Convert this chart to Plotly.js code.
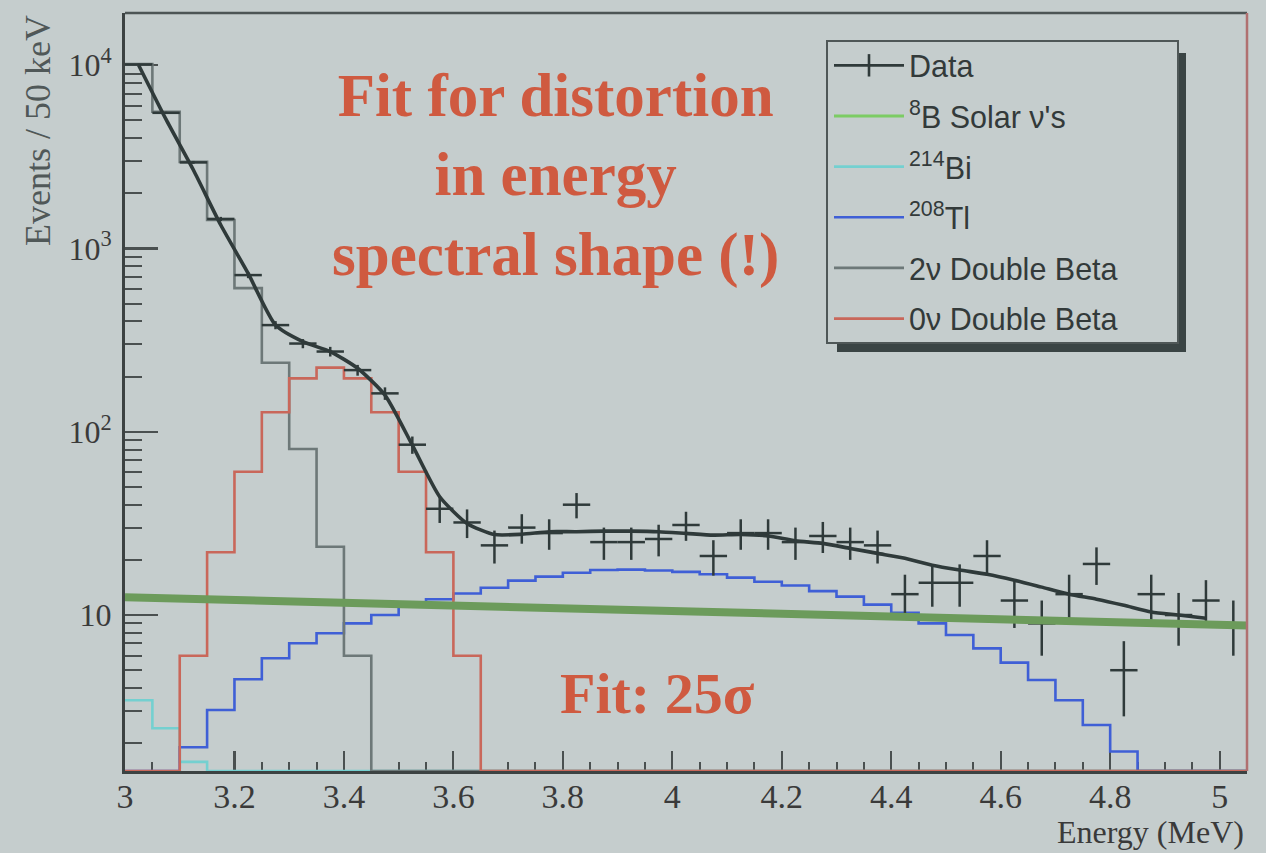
<!DOCTYPE html>
<html>
<head>
<meta charset="utf-8">
<script src="https://cdn.plot.ly/plotly-3.0.1.min.js"></script>
<style>
  html, body { margin: 0; padding: 0; background: #c5cdcd; }
  #chart { width: 1266px; height: 853px; }
</style>
</head>
<body>
<div id="chart"></div>
<script>
// ---------- data ----------
const BIN_WIDTH = 0.05;
const binCenters = [3.025, 3.075, 3.125, 3.175, 3.225, 3.275, 3.325, 3.375, 3.425, 3.475,
  3.525, 3.575, 3.625, 3.675, 3.725, 3.775, 3.825, 3.875, 3.925, 3.975,
  4.025, 4.075, 4.125, 4.175, 4.225, 4.275, 4.325, 4.375, 4.425, 4.475,
  4.525, 4.575, 4.625, 4.675, 4.725, 4.775, 4.825, 4.875, 4.925, 4.975, 5.025];

const dataCounts = [10100, 5500, 2950, 1450, 716, 382, 303, 274, 217, 162,
  85, 38, 32, 24, 30, 28, 40, 25, 25, 26,
  31, 21, 28, 28, 25, 27, 25, 24, 13, 15,
  15, 21, 12, 9, 13, 19, 5, 13, 10, 12, 9];
const dataErrors = [100, 74, 54, 38, 27, 19.5, 17.4, 16.6, 14.7, 12.7,
  9.2, 6.2, 5.7, 4.9, 5.5, 5.3, 6.3, 5, 5, 5.1,
  5.6, 4.6, 5.3, 5.3, 5, 5.2, 5, 4.9, 3.6, 3.9,
  3.9, 4.6, 3.5, 3, 3.6, 4.4, 2.2, 3.6, 3.2, 3.5, 3];

const fitX = [3.025, 3.075, 3.125, 3.175, 3.225, 3.275, 3.325, 3.375, 3.425, 3.475,
  3.525, 3.575, 3.625, 3.675, 3.725, 3.775, 3.825, 3.875, 3.925, 3.975,
  4.025, 4.075, 4.125, 4.175, 4.225, 4.275, 4.325, 4.375, 4.425, 4.475,
  4.525, 4.575, 4.625, 4.675, 4.725, 4.775, 4.825, 4.875, 4.925, 4.975];
const fitY = [10000, 5060, 2680, 1343, 731, 382, 310, 274, 222, 158.5,
  84.5, 44.2, 31.6, 27.5, 27.6, 28.5, 28.5, 28.7, 28.7, 28.5,
  27.9, 27.3, 27.5, 27.0, 25.4, 24.6, 23.1, 21.7, 20.4, 18.7,
  17.6, 16.7, 15.5, 14.2, 13.0, 12.2, 11.3, 10.4, 10.0, 9.6];

const bi214 = [3.43, 2.41, 1.58, 0, 0, 0, 0, 0, 0, 0,
  0, 0, 0, 0, 0, 0, 0, 0, 0, 0,
  0, 0, 0, 0, 0, 0, 0, 0, 0, 0,
  0, 0, 0, 0, 0, 0, 0, 0, 0, 0, 0];
const tl208 = [0, 0, 1.90, 3.03, 4.46, 5.81, 7.02, 7.95, 9.01, 10.0,
  11.1, 12.2, 13.1, 14.1, 15.4, 16.2, 17.0, 17.6, 17.7, 17.5,
  17.2, 16.7, 16.0, 15.2, 14.5, 13.5, 12.6, 11.4, 10.3, 9.0,
  7.78, 6.58, 5.50, 4.42, 3.43, 2.51, 1.80, 0, 0, 0, 0];
const twoNuBB = [10140, 5570, 2970, 1430, 608, 238, 80.5, 23.6, 6.0, 0,
  0, 0, 0, 0, 0, 0, 0, 0, 0, 0,
  0, 0, 0, 0, 0, 0, 0, 0, 0, 0,
  0, 0, 0, 0, 0, 0, 0, 0, 0, 0, 0];
const zeroNuBB = [0, 0, 6.0, 22, 60.5, 127.7, 195.5, 224, 195.5, 127.7,
  60.5, 22, 6.0, 0, 0, 0, 0, 0, 0, 0,
  0, 0, 0, 0, 0, 0, 0, 0, 0, 0,
  0, 0, 0, 0, 0, 0, 0, 0, 0, 0, 0];

const solarX = [3.0, 5.05];
const solarY = [12.5, 8.77];

const xTickVals = [3, 3.2, 3.4, 3.6, 3.8, 4, 4.2, 4.4, 4.6, 4.8, 5];
const xTickText = ['3', '3.2', '3.4', '3.6', '3.8', '4', '4.2', '4.4', '4.6', '4.8', '5'];
const yTickVals = [10, 100, 1000, 10000];
const yTickText = ['10', '10<sup>2</sup>', '10<sup>3</sup>', '10<sup>4</sup>'];

const legendNames = ['Data', '<sup>8</sup>B Solar ν\'s', '<sup>214</sup>Bi', '<sup>208</sup>Tl',
  '2ν Double Beta', '0ν Double Beta'];

// ---------- helpers ----------
const X_RANGE = [3.0, 5.05];
const Y_RANGE = [0.149, 4.285];            // log10 units
const FLOOR = Math.pow(10, Y_RANGE[0]);    // empty bins drawn on the frame, as ROOT does

const edges = binCenters.map(c => +(c - BIN_WIDTH / 2).toFixed(3));
edges.push(+(binCenters[binCenters.length - 1] + BIN_WIDTH / 2).toFixed(3));
function stepY(vals) {
  const v = vals.map(d => (d > 0 ? d : FLOOR));
  v.push(v[v.length - 1]);
  return v;
}
const yMinor = [];
for (let e = 0; e <= 4; e++) for (let m = 2; m <= 9; m++) yMinor.push(m * Math.pow(10, e));

const INK = '#2f3a3a';
const BG = '#c5cdcd';

function hist(vals, name, color, rank) {
  return {
    type: 'scatter', mode: 'lines', x: edges, y: stepY(vals), name: name,
    line: { shape: 'hv', color: color, width: 2.6 },
    legendrank: rank, legendgroup: 'g' + rank, hoverinfo: 'skip'
  };
}

const traces = [
  hist(bi214, legendNames[2], '#74d0d0', 3),
  hist(tl208, legendNames[3], '#3f5fd6', 4),
  hist(twoNuBB, legendNames[4], '#6d7878', 5),
  hist(zeroNuBB, legendNames[5], '#c9675a', 6),
  {
    type: 'scatter', mode: 'lines', x: fitX, y: fitY, showlegend: false,
    line: { color: INK, width: 3.6, shape: 'spline', smoothing: 0.6 }, hoverinfo: 'skip'
  },
  {
    type: 'scatter', mode: 'markers', x: binCenters, y: dataCounts, name: legendNames[0],
    showlegend: false,
    marker: { size: 1, color: INK },
    error_x: { type: 'constant', value: BIN_WIDTH / 2, width: 0, thickness: 2.5, color: INK },
    error_y: { type: 'data', array: dataErrors, width: 0, thickness: 2.5, color: INK }
  },
  // legend entry for the data (a cross: horizontal line + vertical tick)
  {
    type: 'scatter', mode: 'lines+markers', x: [null], y: [null], name: legendNames[0],
    line: { color: INK, width: 2.6 },
    marker: { symbol: 'line-ns-open', size: 16, color: INK, line: { width: 2.6, color: INK } },
    legendrank: 1, legendgroup: 'g1'
  },
  {
    type: 'scatter', mode: 'lines', x: solarX, y: solarY, name: legendNames[1],
    line: { color: '#7ccc64', width: 3 }, legendrank: 2, legendgroup: 'g2'
  },
  {
    type: 'scatter', mode: 'lines', x: solarX, y: solarY, showlegend: false,
    line: { color: '#6c9b5b', width: 8 }, hoverinfo: 'skip'
  }
];

const W = 1266, H = 853;
const M = { l: 125, r: 19, t: 13, b: 82 };
const pw = W - M.l - M.r, ph = H - M.t - M.b;
const px = X => (X - M.l) / pw;          // pixel -> paper x (for decorations only)
const py = Y => (H - M.b - Y) / ph;      // pixel -> paper y

const serif = 'Liberation Serif, Times New Roman, serif';
const annRed = '#cf5a40';

// legend frame (ROOT style box with drop shadow)
const LEG = { l: 827, r: 1178, t: 41, b: 343 };

const shapes = [
  { type: 'line', xref: 'paper', yref: 'paper', x0: 0, x1: 1, y0: 1, y1: 1, line: { color: '#4d5555', width: 2.5 } },
  { type: 'line', xref: 'paper', yref: 'paper', x0: 1, x1: 1, y0: 0, y1: 1, line: { color: '#b07070', width: 2.5 } },
  { type: 'rect', xref: 'paper', yref: 'paper', layer: 'above',
    x0: px(LEG.l + 10), x1: px(LEG.r + 8), y0: py(LEG.b + 9), y1: py(LEG.t + 12),
    fillcolor: '#3a4444', line: { width: 0 } },
  { type: 'rect', xref: 'paper', yref: 'paper', layer: 'above',
    x0: px(LEG.l), x1: px(LEG.r), y0: py(LEG.b), y1: py(LEG.t),
    fillcolor: BG, line: { width: 2, color: '#4f5757' } }
];

const layout = {
  width: W, height: H,
  margin: M,
  paper_bgcolor: BG,
  plot_bgcolor: BG,
  showlegend: true,
  xaxis: {
    range: X_RANGE, showgrid: false, zeroline: false,
    showline: true, linecolor: '#3c4242', linewidth: 3,
    ticks: 'inside', tickvals: xTickVals, ticktext: xTickText,
    ticklen: 20, tickwidth: 2.2, tickcolor: '#4a5050',
    tickfont: { family: serif, size: 34, color: '#3a3a3a' },
    ticklabelstandoff: -7,
    minor: { ticks: 'inside', dtick: 0.05, tick0: 3, ticklen: 9, tickwidth: 2, tickcolor: '#4a5050', showgrid: false },
    layer: 'below traces', fixedrange: true
  },
  yaxis: {
    type: 'log', range: Y_RANGE, showgrid: false, zeroline: false,
    showline: true, linecolor: '#3c4242', linewidth: 3,
    ticks: 'inside', tickvals: yTickVals, ticktext: yTickText,
    ticklen: 33, tickwidth: 2.2, tickcolor: '#4a5050',
    tickfont: { family: serif, size: 32, color: '#3a3a3a' },
    ticklabelstandoff: 4,
    minor: { ticks: 'inside', tickvals: yMinor, ticklen: 17, tickwidth: 2, tickcolor: '#4a5050', showgrid: false },
    layer: 'below traces', fixedrange: true
  },
  legend: {
    x: px(LEG.l + 2), y: py(LEG.t - 2), xanchor: 'left', yanchor: 'top',
    bgcolor: 'rgba(0,0,0,0)', borderwidth: 0,
    font: { family: 'Liberation Sans, Arial, sans-serif', size: 30.5, color: '#333a3a' },
    itemwidth: 70, traceorder: 'grouped', tracegroupgap: 8
  },
  shapes: shapes,
  annotations: [
    { text: 'Fit for distortion<br>in energy<br>spectral shape (!)', xref: 'paper', yref: 'paper',
      x: px(555), y: py(175), xanchor: 'center', yanchor: 'middle', showarrow: false, align: 'center',
      font: { family: serif, size: 61, color: annRed, weight: 'bold' } },
    { text: 'Fit: 25σ', xref: 'paper', yref: 'paper',
      x: px(657), y: py(693), xanchor: 'center', yanchor: 'middle', showarrow: false,
      font: { family: serif, size: 58, color: annRed, weight: 'bold' } },
    { text: 'Events / 50 keV', xref: 'paper', yref: 'paper', textangle: -90,
      x: px(38), y: py(131), xanchor: 'center', yanchor: 'middle', showarrow: false,
      font: { family: serif, size: 36, color: '#505858' } },
    { text: 'Energy (MeV)', xref: 'paper', yref: 'paper',
      x: px(1246), y: py(832), xanchor: 'right', yanchor: 'middle', showarrow: false,
      font: { family: serif, size: 32, color: '#3a3a3a' } }
  ]
};

Plotly.newPlot('chart', traces, layout, { displayModeBar: false, staticPlot: true });
</script>
</body>
</html>
